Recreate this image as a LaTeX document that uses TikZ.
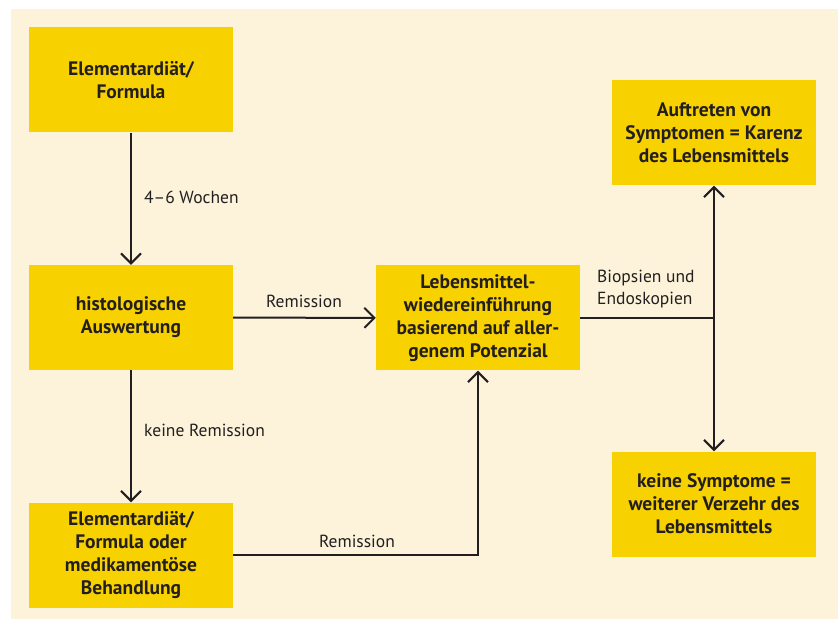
\documentclass[tikz,border=0pt]{standalone}
\usepackage{fontspec}
\setmainfont{PT Sans}
\usetikzlibrary{arrows.meta}
\definecolor{boxgelb}{RGB}{247,209,0}
\definecolor{creme}{RGB}{252,243,218}
\definecolor{linie}{RGB}{35,31,32}
\begin{document}
\begin{tikzpicture}[x=1pt, y=1pt,
    box/.style={fill=boxgelb, minimum width=204pt, minimum height=105pt, align=center,
                font=\fontsize{19.5}{23}\selectfont\bfseries, text=linie, inner sep=0pt},
    lbl/.style={font=\fontsize{17.5}{22}\selectfont, text=linie, inner sep=0pt},
    pfeil/.style={draw=linie, line width=2pt, -{Straight Barb[length=10pt,width=20pt,line width=2pt]}},
    linie/.style={draw=linie, line width=2pt}]
          \useasboundingbox (0,0) rectangle (838,619);
          \fill[creme] (11,0) rectangle (838,610);
          \node [box] (el) at (131,539) {Elementardiät/\\Formula};
          \node [box] (hist) at (131,301.5) {histologische\\Auswertung};
          \node [box] (lm) at (478,301) {Lebensmittel-\\wiedereinführung\\basierend auf aller-\\genem Potenzial};
          \node [box] (auf) at (714,486) {Auftreten von\\Symptomen = Karenz\\des Lebensmittels};
          \node [box] (keine) at (714,115) {keine Symptome =\\weiterer Verzehr des\\Lebensmittels};
          \node [box] (beh) at (131,64) {Elementardiät/\\Formula oder\\medikamentöse\\Behandlung};
          \coordinate (bio) at (auf.south |- lm.east);   % Verzweigung rechts
          \draw [pfeil] (el) -- (hist);
          \draw [pfeil] (hist) -- (lm);
          \draw [pfeil] (hist) -- (beh);
          \draw [pfeil] (beh.east) -| (lm.south);
          \draw [linie] (lm.east) -- (bio);
          \draw [pfeil] (bio) -- (auf.south);
          \draw [pfeil] (bio) -- (keine.north);
          \node [lbl, anchor=west] (w) at (144,422) {4–6 Wochen};
          \node [lbl] (r1) at (304,318) {Remission};
          \node [lbl, anchor=west] (kr) at (144,189) {keine Remission};
          \node [lbl] (r2) at (357,78) {Remission};
          \node [lbl, anchor=west, align=left] (be) at (597,330) {Biopsien und\\Endoskopien};
        \end{tikzpicture}
\end{document}
